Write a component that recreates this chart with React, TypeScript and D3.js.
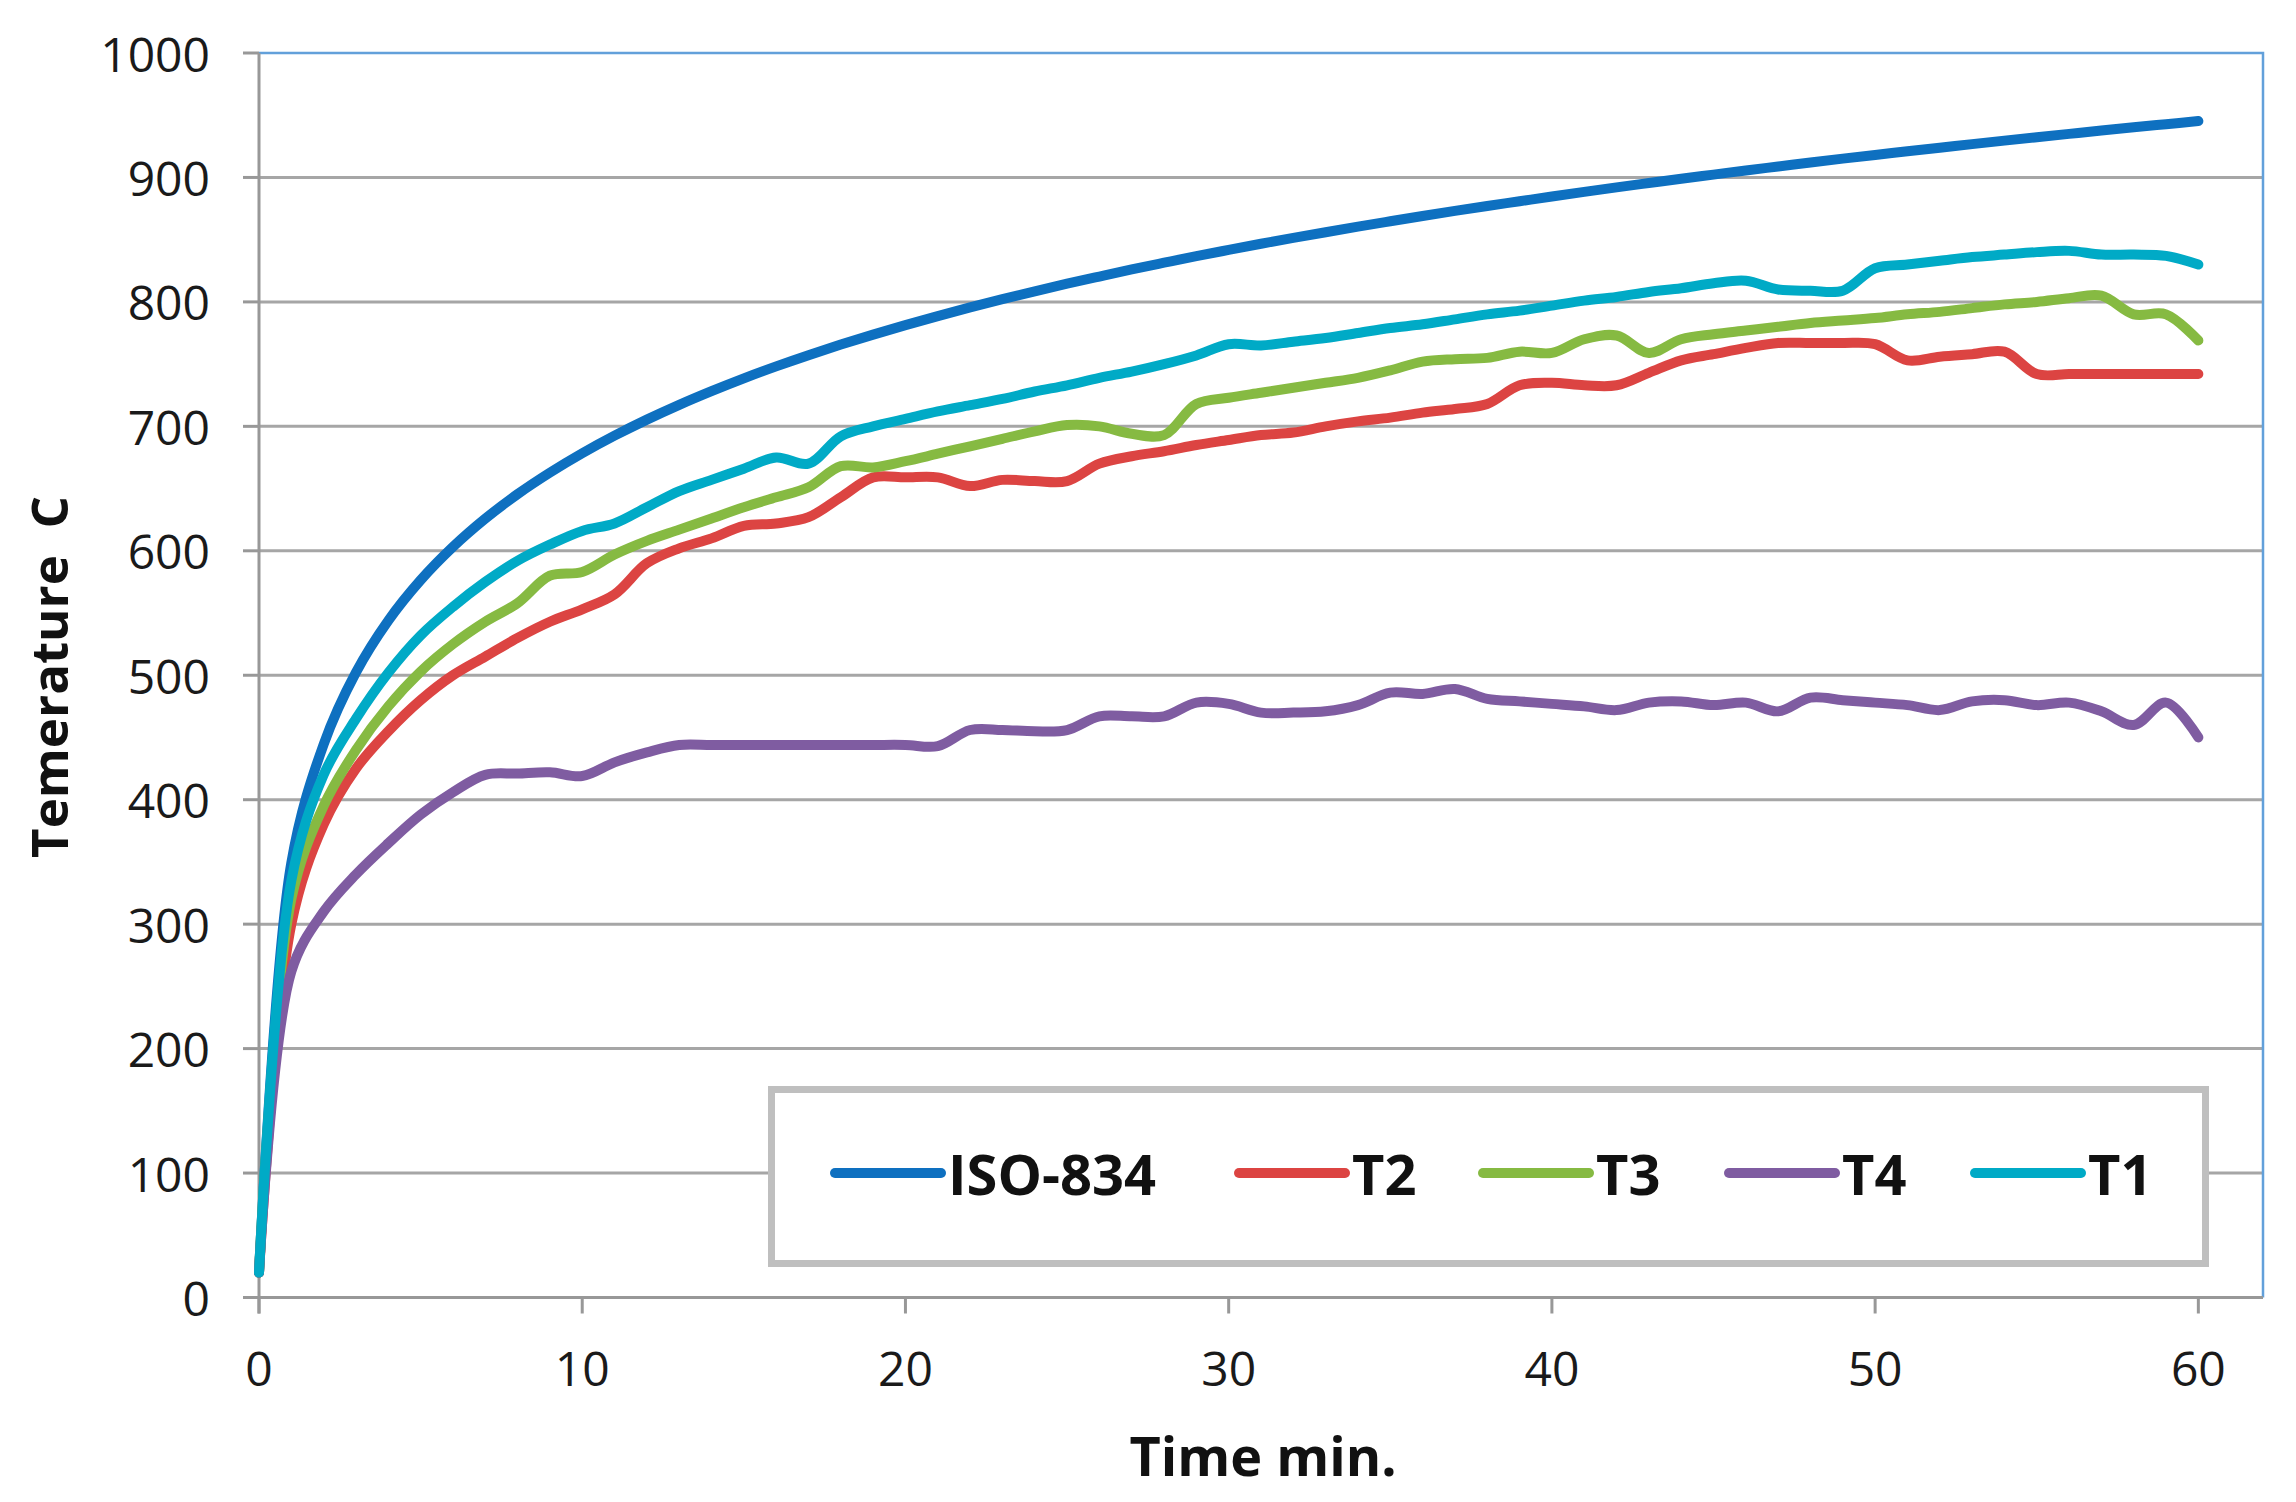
import * as d3 from "d3"
import { useEffect, useRef } from "react"

const minutes = [
  0, 1, 2, 3, 4, 5, 6, 7, 8, 9, 10, 11, 12, 13, 14, 15, 16, 17, 18, 19, 20, 21, 22, 23, 24, 25, 26, 27, 28, 29, 30,
  31, 32, 33, 34, 35, 36, 37, 38, 39, 40, 41, 42, 43, 44, 45, 46, 47, 48, 49, 50, 51, 52, 53, 54, 55, 56, 57, 58, 59, 60,
]

const iso834 = [
  20, 349.2, 444.5, 502.3, 543.9, 576.4, 603.1, 625.8, 645.5, 662.8, 678.4, 692.5, 705.4, 717.3, 728.3, 738.6, 748.2,
  757.2, 765.7, 773.7, 781.3, 788.6, 795.6, 802.2, 808.5, 814.6, 820.4, 826.1, 831.5, 836.8, 841.8, 846.7, 851.4, 856.0,
  860.5, 864.8, 869.0, 873.1, 877.1, 880.9, 884.7, 888.4, 892.0, 895.5, 899.0, 902.3, 905.6, 908.8, 912.0, 915.1, 918.1,
  921.0, 923.9, 926.8, 929.6, 932.3, 935.0, 937.7, 940.3, 942.8, 945.3,
]

const t2 = [
  20, 300, 380, 425, 455, 480, 500, 515, 530, 543, 553, 565, 590, 602, 610, 620, 622, 627, 643, 659, 659, 659, 652, 657,
  656, 656, 670, 676, 680, 685, 689, 693, 695, 700, 704, 707, 711, 714, 718, 733, 735, 733, 733, 743, 753, 758, 763, 767,
  767, 767, 766, 753, 756, 758, 760, 742, 742, 742, 742, 742, 742,
]

const t3 = [
  20, 320, 395, 440, 475, 503, 525, 543, 558, 580, 583, 597, 608, 617, 626, 635, 643, 651, 668, 667, 672, 678, 684, 690,
  696, 701, 700, 694, 693, 718, 723, 727, 731, 735, 739, 745, 752, 754, 755, 760, 759, 770, 773, 759, 770, 774, 777, 780,
  783, 785, 787, 790, 792, 795, 798, 800, 803, 805, 790, 790, 769,
]

const t4 = [
  20, 262, 310, 340, 365, 388, 406, 420, 421, 422, 419, 430, 438, 444, 444, 444, 444, 444, 444, 444, 444, 443, 456, 456,
  455, 456, 467, 467, 467, 478, 477, 470, 470, 471, 476, 486, 485, 489, 481, 479, 477, 475, 472, 478, 479, 476, 478, 471,
  482, 480, 478, 476, 472, 479, 480, 476, 478, 471, 460, 478, 450,
]

const t1 = [
  20, 335, 420, 465, 502, 532, 555, 575, 592, 605, 616, 622, 635, 648, 657, 666, 675, 670, 692, 700, 706, 712, 717, 722,
  728, 733, 739, 744, 750, 757, 766, 765, 768, 771, 775, 779, 782, 786, 790, 793, 797, 801, 804, 808, 811, 815, 817, 810,
  809, 809, 827, 830, 833, 836, 838, 840, 841, 838, 838, 837, 830,
]

const seriesNames = ["ISO-834", "T2", "T3", "T4", "T1"]
const seriesValues = [iso834, t2, t3, t4, t1]
const seriesColors = ["#0E70C0", "#DC4442", "#86BA42", "#7F5CA1", "#00AAC6"]

const yTicks = [0, 100, 200, 300, 400, 500, 600, 700, 800, 900, 1000]
const xTicks = [0, 10, 20, 30, 40, 50, 60]

const W = 2296
const H = 1502
const plot = { left: 259, top: 53, right: 2263, bottom: 1297.5 }
const FONT = "'Open Sans', 'DejaVu Sans', sans-serif"

export default function App() {
  const svgRef = useRef<SVGSVGElement>(null)

  useEffect(() => {
    if (!svgRef.current) return
    const svg = d3.select(svgRef.current)
    svg.selectAll("*").remove()

    const x = d3.scaleLinear().domain([0, 62]).range([plot.left, plot.right])
    const y = d3.scaleLinear().domain([0, 1000]).range([plot.bottom, plot.top])

    svg.append("rect").attr("width", W).attr("height", H).attr("fill", "#ffffff")

    // horizontal grid
    svg
      .append("g")
      .selectAll("line")
      .data(yTicks.filter((d) => d > 0 && d < 1000))
      .enter()
      .append("line")
      .attr("x1", plot.left)
      .attr("x2", plot.right)
      .attr("y1", (d) => y(d))
      .attr("y2", (d) => y(d))
      .attr("stroke", "#A6A6A6")
      .attr("stroke-width", 3)

    // plot border top / right
    svg
      .append("path")
      .attr("d", `M${plot.left},${y(1000)}H${plot.right}V${plot.bottom}`)
      .attr("fill", "none")
      .attr("stroke", "#62A0DA")
      .attr("stroke-width", 2.5)

    // left axis
    const yAxis = svg.append("g")
    yAxis
      .append("line")
      .attr("x1", plot.left)
      .attr("x2", plot.left)
      .attr("y1", plot.top)
      .attr("y2", plot.bottom + 16)
      .attr("stroke", "#989898")
      .attr("stroke-width", 3)
    yAxis
      .selectAll("line.tick")
      .data(yTicks)
      .enter()
      .append("line")
      .attr("class", "tick")
      .attr("x1", plot.left - 16)
      .attr("x2", plot.left)
      .attr("y1", (d) => y(d))
      .attr("y2", (d) => y(d))
      .attr("stroke", "#989898")
      .attr("stroke-width", 3)
    yAxis
      .selectAll("text")
      .data(yTicks)
      .enter()
      .append("text")
      .attr("x", 210)
      .attr("y", (d) => y(d))
      .attr("text-anchor", "end")
      .attr("dominant-baseline", "central")
      .style("font-family", FONT)
      .style("font-size", "48px")
      .style("fill", "#1a1a1a")
      .text((d) => d)

    // bottom axis
    const xAxis = svg.append("g")
    xAxis
      .append("line")
      .attr("x1", plot.left - 16)
      .attr("x2", plot.right)
      .attr("y1", plot.bottom)
      .attr("y2", plot.bottom)
      .attr("stroke", "#989898")
      .attr("stroke-width", 3)
    xAxis
      .selectAll("line.tick")
      .data(xTicks)
      .enter()
      .append("line")
      .attr("class", "tick")
      .attr("x1", (d) => x(d))
      .attr("x2", (d) => x(d))
      .attr("y1", plot.bottom)
      .attr("y2", plot.bottom + 16)
      .attr("stroke", "#989898")
      .attr("stroke-width", 3)
    xAxis
      .selectAll("text")
      .data(xTicks)
      .enter()
      .append("text")
      .attr("x", (d) => x(d))
      .attr("y", 1367)
      .attr("text-anchor", "middle")
      .attr("dominant-baseline", "central")
      .style("font-family", FONT)
      .style("font-size", "48px")
      .style("fill", "#1a1a1a")
      .text((d) => d)

    // axis titles
    svg
      .append("text")
      .attr("transform", `translate(48,677) rotate(-90)`)
      .attr("text-anchor", "middle")
      .attr("dominant-baseline", "central")
      .style("font-family", FONT)
      .style("font-size", "51px")
      .style("font-weight", "bold")
      .style("fill", "#111")
      .style("white-space", "pre")
      .text("Temerature  C")
    svg
      .append("text")
      .attr("x", 1263)
      .attr("y", 1455)
      .attr("text-anchor", "middle")
      .attr("dominant-baseline", "central")
      .style("font-family", FONT)
      .style("font-size", "54px")
      .style("font-weight", "bold")
      .style("fill", "#111")
      .text("Time min.")

    // series
    const line = d3
      .line<number>()
      .x((_d, i) => x(minutes[i]))
      .y((d) => y(d))
      .curve(d3.curveCatmullRom.alpha(0.5))

    seriesValues.forEach((vals, i) => {
      svg
        .append("path")
        .datum(vals)
        .attr("d", line)
        .attr("fill", "none")
        .attr("stroke", seriesColors[i])
        .attr("stroke-width", 10)
        .attr("stroke-linecap", "round")
        .attr("stroke-linejoin", "round")
    })

    // legend
    const legend = svg.append("g")
    legend
      .append("rect")
      .attr("x", 771.5)
      .attr("y", 1089.5)
      .attr("width", 1434)
      .attr("height", 174)
      .attr("fill", "#ffffff")
      .attr("stroke", "#BFBFBF")
      .attr("stroke-width", 7)
    const legendX = [835, 1239, 1483, 1729, 1975]
    const legendY = 1173
    seriesNames.forEach((name, i) => {
      legend
        .append("line")
        .attr("x1", legendX[i])
        .attr("x2", legendX[i] + 106)
        .attr("y1", legendY)
        .attr("y2", legendY)
        .attr("stroke", seriesColors[i])
        .attr("stroke-width", 10)
        .attr("stroke-linecap", "round")
      legend
        .append("text")
        .attr("x", legendX[i] + 113)
        .attr("y", legendY)
        .attr("dominant-baseline", "central")
        .style("font-family", FONT)
        .style("font-size", "56px")
        .style("font-weight", "bold")
        .style("fill", "#111")
        .text(name)
    })
  }, [])

  return (
    <svg
      ref={svgRef}
      width={W}
      height={H}
      viewBox={`0 0 ${W} ${H}`}
      style={{ position: "absolute", left: 0, top: 0, display: "block" }}
    />
  )
}
